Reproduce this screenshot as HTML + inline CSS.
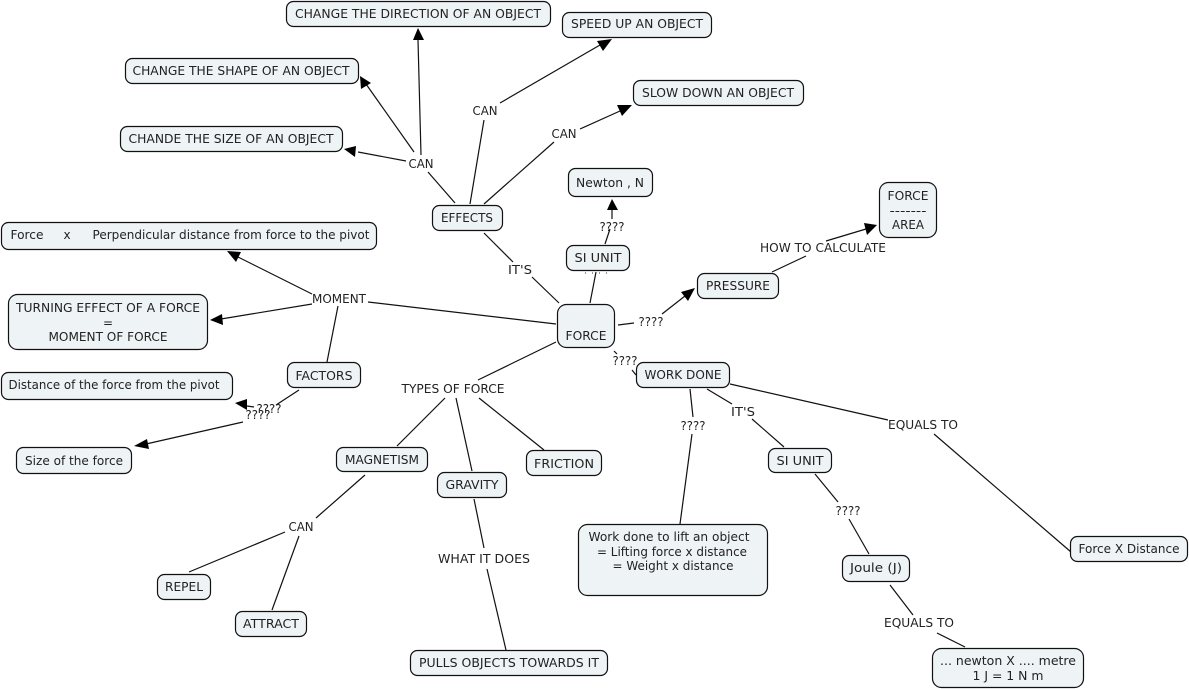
<!DOCTYPE html>
<html><head><meta charset="utf-8">
<style>
html,body{margin:0;padding:0;background:#fff}
svg{display:block}
text{font-family:"DejaVu Sans",sans-serif;font-size:12px;fill:#222;text-anchor:middle}
.n{fill:#eef3f6;stroke:#111;stroke-width:1.2}
.l{stroke:#111;stroke-width:1.2;fill:none}
.a{fill:#000}
</style></head><body>
<svg width="1189" height="689" viewBox="0 0 1189 689" xmlns="http://www.w3.org/2000/svg">
<g class="l">
<path d="M421 155L418 40"/><path d="M414 152L366 84"/><path d="M406 161L358 152"/>
<path d="M455 203L428 172"/><path d="M470 204L484 120"/><path d="M484 204L554 142"/>
<path d="M500 103L600 45"/><path d="M580 129L620 111"/>
<path d="M484 233L513 262"/><path d="M532 277L559 303"/>
<path d="M590 303L596 272"/><path d="M605 244L610 229"/><path d="M612 219L612 210"/>
<path d="M618 325L634 323"/><path d="M662 314L685 296"/>
<path d="M772 272L806 256"/><path d="M826 241L866 229"/>
<path d="M556 324L368 302"/><path d="M312 294L238 257"/><path d="M312 304L221 319"/>
<path d="M338 306L327 362"/>
<path d="M299 390L276 405"/><path d="M254 407L247 406"/><path d="M243 422L146 444"/>
<path d="M556 342L478 380"/><path d="M445 398L397 446"/><path d="M456 398L472 471"/><path d="M479 398L544 450"/>
<path d="M365 475L316 518"/><path d="M285 532L189 572"/><path d="M299 536L272 610"/>
<path d="M474 499L484 548"/><path d="M487 569L506 650"/>
<path d="M614 351L617 354"/><path d="M632 370L636 375"/>
<path d="M690 389L693 417"/><path d="M692 434L680 524"/>
<path d="M707 389L732 404"/><path d="M752 419L784 447"/>
<path d="M730 384L888 420"/><path d="M934 434L1071 552"/>
<path d="M815 474L838 502"/><path d="M849 519L869 554"/>
<path d="M890 585L913 615"/><path d="M937 633L965 647"/>
</g>
<g class="a">
<path d="M418 28L413 40L424 40Z"/>
<path d="M360 76L361 89L371 83Z"/>
<path d="M344 149L356 146L355 157Z"/>
<path d="M612 39L597 41L603 51Z"/>
<path d="M632 105L617 105L622 116Z"/>
<path d="M612 199L607 210L618 210Z"/>
<path d="M695 288L681 292L688 301Z"/>
<path d="M877 225L864 223L867 235Z"/>
<path d="M227 251L241 252L236 262Z"/>
<path d="M210 320L222 314L223 325Z"/>
<path d="M235 403L247 399L247 410Z"/>
<path d="M134 446L147 439L149 449Z"/>
</g>
<g class="n">
<rect x="286.500" y="1.500" width="264" height="25" rx="7"/>
<rect x="562.500" y="12.500" width="149" height="25" rx="7"/>
<rect x="125.500" y="58.500" width="233" height="25" rx="7"/>
<rect x="633.500" y="80.500" width="170" height="25" rx="7"/>
<rect x="120.500" y="126.500" width="222" height="25" rx="7"/>
<rect x="568.500" y="168.500" width="84" height="28" rx="7"/>
<rect x="879.500" y="182.500" width="57" height="55" rx="9"/>
<rect x="432.500" y="205.500" width="70" height="25" rx="7"/>
<rect x="1.500" y="222.500" width="375" height="27" rx="7"/>
<rect x="566.500" y="245.500" width="63" height="25" rx="7"/>
<rect x="697.500" y="273.500" width="81" height="25" rx="7"/>
<rect x="8.500" y="294.500" width="199" height="55" rx="9"/>
<rect x="557.500" y="304.500" width="57" height="43" rx="9"/>
<rect x="636.500" y="362.500" width="93" height="25" rx="7"/>
<rect x="287.500" y="362.500" width="73" height="25" rx="7"/>
<rect x="1.500" y="372.500" width="231" height="27" rx="7"/>
<rect x="336.500" y="447.500" width="91" height="24" rx="7"/>
<rect x="768.500" y="448.500" width="63" height="24" rx="7"/>
<rect x="526.500" y="450.500" width="75" height="25" rx="7"/>
<rect x="16.500" y="447.500" width="115" height="26" rx="7"/>
<rect x="437.500" y="472.500" width="69" height="25" rx="7"/>
<rect x="1070.500" y="536.500" width="117" height="25" rx="7"/>
<rect x="578.500" y="524.500" width="189" height="71" rx="9"/>
<rect x="842.500" y="555.500" width="67" height="26" rx="7"/>
<rect x="157.500" y="574.500" width="53" height="25" rx="7"/>
<rect x="235.500" y="611.500" width="71" height="25" rx="7"/>
<rect x="410.500" y="650.500" width="197" height="25" rx="7"/>
<rect x="932.500" y="648.500" width="151" height="39" rx="9"/>
</g>
<text x="418" y="18" textLength="246" lengthAdjust="spacingAndGlyphs">CHANGE THE DIRECTION OF AN OBJECT</text>
<text x="637" y="28" textLength="132" lengthAdjust="spacingAndGlyphs">SPEED UP AN OBJECT</text>
<text x="241" y="75" textLength="217" lengthAdjust="spacingAndGlyphs">CHANGE THE SHAPE OF AN OBJECT</text>
<text x="718" y="97" textLength="152" lengthAdjust="spacingAndGlyphs">SLOW DOWN AN OBJECT</text>
<text x="231" y="143" textLength="205" lengthAdjust="spacingAndGlyphs">CHANDE THE SIZE OF AN OBJECT</text>
<text x="610" y="187" textLength="68" lengthAdjust="spacingAndGlyphs">Newton , N</text>
<text x="908" y="200" textLength="41" lengthAdjust="spacingAndGlyphs">FORCE</text>
<text x="908" y="215" textLength="37" lengthAdjust="spacingAndGlyphs">-------</text>
<text x="908" y="229" textLength="32" lengthAdjust="spacingAndGlyphs">AREA</text>
<text x="467" y="222" textLength="52" lengthAdjust="spacingAndGlyphs">EFFECTS</text>
<text x="27" y="239" textLength="33" lengthAdjust="spacingAndGlyphs">Force</text>
<text x="67" y="239">x</text>
<text x="231" y="239" textLength="277" lengthAdjust="spacingAndGlyphs">Perpendicular distance from force to the pivot</text>
<text x="598" y="262" textLength="47" lengthAdjust="spacingAndGlyphs">SI UNIT</text>
<text x="738" y="290" textLength="64" lengthAdjust="spacingAndGlyphs">PRESSURE</text>
<text x="108" y="312" textLength="184" lengthAdjust="spacingAndGlyphs">TURNING EFFECT OF A FORCE</text>
<text x="108" y="327">=</text>
<text x="108" y="341" textLength="119" lengthAdjust="spacingAndGlyphs">MOMENT OF FORCE</text>
<text x="586" y="340" textLength="41" lengthAdjust="spacingAndGlyphs">FORCE</text>
<text x="683" y="379" textLength="77" lengthAdjust="spacingAndGlyphs">WORK DONE</text>
<text x="324" y="380" textLength="57" lengthAdjust="spacingAndGlyphs">FACTORS</text>
<text x="114" y="389" textLength="211" lengthAdjust="spacingAndGlyphs">Distance of the force from the pivot</text>
<text x="382" y="464" textLength="74" lengthAdjust="spacingAndGlyphs">MAGNETISM</text>
<text x="800" y="465" textLength="47" lengthAdjust="spacingAndGlyphs">SI UNIT</text>
<text x="564" y="468" textLength="60" lengthAdjust="spacingAndGlyphs">FRICTION</text>
<text x="74" y="465" textLength="98" lengthAdjust="spacingAndGlyphs">Size of the force</text>
<text x="472" y="489" textLength="53" lengthAdjust="spacingAndGlyphs">GRAVITY</text>
<text x="1129" y="553" textLength="101" lengthAdjust="spacingAndGlyphs">Force X Distance</text>
<text x="669" y="541" textLength="161" lengthAdjust="spacingAndGlyphs">Work done to lift an object</text>
<text x="672" y="556" textLength="150" lengthAdjust="spacingAndGlyphs">= Lifting force x distance</text>
<text x="673" y="570" textLength="121" lengthAdjust="spacingAndGlyphs">= Weight x distance</text>
<text x="876" y="572" textLength="52" lengthAdjust="spacingAndGlyphs">Joule (J)</text>
<text x="184" y="591" textLength="38" lengthAdjust="spacingAndGlyphs">REPEL</text>
<text x="271" y="628" textLength="56" lengthAdjust="spacingAndGlyphs">ATTRACT</text>
<text x="509" y="667" textLength="180" lengthAdjust="spacingAndGlyphs">PULLS OBJECTS TOWARDS IT</text>
<text x="1008" y="665" textLength="136" lengthAdjust="spacingAndGlyphs">... newton X .... metre</text>
<text x="1008" y="680" textLength="71" lengthAdjust="spacingAndGlyphs">1 J = 1 N m</text>
<text x="421" y="168" textLength="25" lengthAdjust="spacingAndGlyphs">CAN</text>
<text x="485" y="115" textLength="25" lengthAdjust="spacingAndGlyphs">CAN</text>
<text x="564" y="138" textLength="25" lengthAdjust="spacingAndGlyphs">CAN</text>
<text x="520" y="274" textLength="24" lengthAdjust="spacingAndGlyphs">IT'S</text>
<text x="612" y="231" textLength="25" lengthAdjust="spacingAndGlyphs">????</text>
<text x="651" y="326" textLength="25" lengthAdjust="spacingAndGlyphs">????</text>
<text x="625" y="365" textLength="25" lengthAdjust="spacingAndGlyphs">????</text>
<text x="823" y="252" textLength="126" lengthAdjust="spacingAndGlyphs">HOW TO CALCULATE</text>
<text x="339" y="303" textLength="54" lengthAdjust="spacingAndGlyphs">MOMENT</text>
<text x="269" y="413" textLength="25" lengthAdjust="spacingAndGlyphs">????</text>
<text x="258" y="419" textLength="25" lengthAdjust="spacingAndGlyphs">????</text>
<text x="453" y="393" textLength="103" lengthAdjust="spacingAndGlyphs">TYPES OF FORCE</text>
<text x="301" y="531" textLength="25" lengthAdjust="spacingAndGlyphs">CAN</text>
<text x="484" y="563" textLength="92" lengthAdjust="spacingAndGlyphs">WHAT IT DOES</text>
<text x="693" y="430" textLength="25" lengthAdjust="spacingAndGlyphs">????</text>
<text x="743" y="416" textLength="24" lengthAdjust="spacingAndGlyphs">IT'S</text>
<text x="923" y="429" textLength="70" lengthAdjust="spacingAndGlyphs">EQUALS TO</text>
<text x="848" y="515" textLength="25" lengthAdjust="spacingAndGlyphs">????</text>
<text x="919" y="627" textLength="70" lengthAdjust="spacingAndGlyphs">EQUALS TO</text>
<g fill="#999"><rect x="585" y="272" width="1" height="2"/><rect x="592" y="272" width="1" height="2"/><rect x="599" y="272" width="1" height="2"/><rect x="606" y="272" width="1" height="2"/></g>
</svg>
</body></html>
